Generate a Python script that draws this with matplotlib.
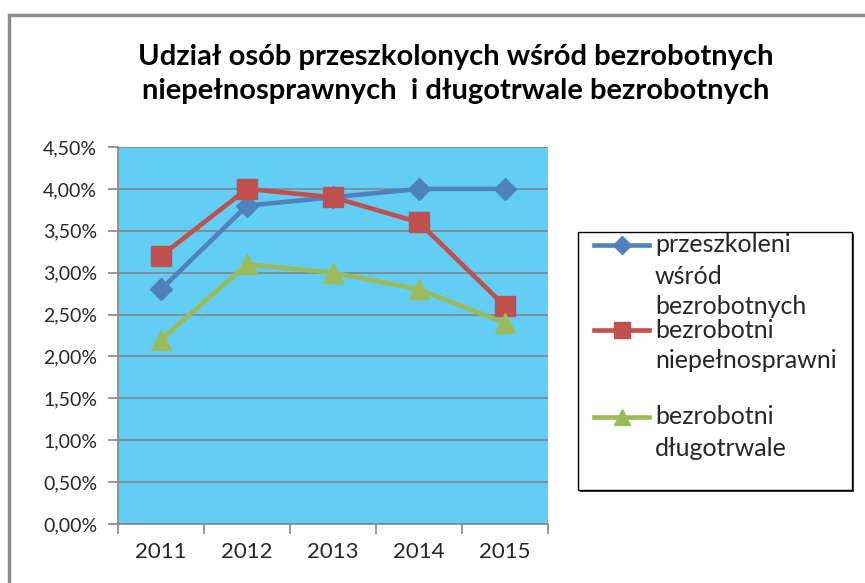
import matplotlib
matplotlib.use('Agg')
import matplotlib.pyplot as plt
from matplotlib.lines import Line2D
from matplotlib.patches import Rectangle
from matplotlib.ticker import FuncFormatter

plt.rcParams['font.family'] = ['Lato', 'DejaVu Sans']

# data (percent)
years = ['2011', '2012', '2013', '2014', '2015']
przeszkoleni = [2.8, 3.8, 3.9, 4.0, 4.0]
niepelnosprawni = [3.2, 4.0, 3.9, 3.6, 2.6]
dlugotrwale = [2.2, 3.1, 3.0, 2.8, 2.4]
names = ['przeszkoleni\nwśród\nbezrobotnych', 'bezrobotni\nniepełnosprawni', 'bezrobotni\ndługotrwale']
title = 'Udział osób przeszkolonych wśród bezrobotnych\nniepełnosprawnych  i długotrwale bezrobotnych'

colors = ['#4F81BD', '#C0504D', '#9BBB59']
markers = ['D', 's', '^']
msizes = [11, 14, 14]

W, H = 865, 583
fig = plt.figure(figsize=(W / 100, H / 100), dpi=100)
ax = fig.add_axes([118 / W, 1 - 524 / H, 430 / W, 377 / H])
ax.set_facecolor('#62CDF5')

x = list(range(len(years)))
series = [przeszkoleni, niepelnosprawni, dlugotrwale]
for vals, c, m, ms in zip(series, colors, markers, msizes):
    ax.plot(x, vals, color=c, lw=3.3, marker=m, markersize=ms,
            markeredgecolor=c, zorder=3)

ax.set_xlim(-0.5, len(years) - 0.5)
ax.set_ylim(0, 4.5)
ax.set_yticks([i * 0.5 for i in range(10)])
ax.yaxis.set_major_formatter(FuncFormatter(lambda v, p: f'{v:.2f}%'.replace('.', ',')))
ax.grid(axis='y', color='#868686', lw=1.2, zorder=1)
ax.set_axisbelow(True)

ax.set_xticks([i - 0.5 for i in range(len(years) + 1)])
ax.set_xticklabels([])
ax.set_xticks(x, minor=True)
ax.set_xticklabels(years, minor=True)
ax.tick_params(axis='x', which='minor', length=0, pad=13, labelsize=16, labelcolor='#262626')
ax.tick_params(axis='x', which='major', length=7, width=1.2, color='#868686', direction='out')
ax.tick_params(axis='y', length=7, width=1.2, color='#868686', pad=8, labelsize=14, labelcolor='#262626')

for s in ['top', 'right']:
    ax.spines[s].set_visible(False)
for s in ['left', 'bottom']:
    ax.spines[s].set_color('#868686')
    ax.spines[s].set_linewidth(1.2)

fig.text(456 / W, 1 - 74 / H, title, ha='center', va='center', fontsize=21,
         fontweight='bold', linespacing=1.4, color='#000000')

# outer chart border
fig.patches.append(Rectangle((9 / W, -0.1), 1.1, 1 - 15 / H + 0.1, transform=fig.transFigure,
                             fill=False, edgecolor='#8C8C8C', lw=2.5))

# legend box
fig.patches.append(Rectangle((580 / W, 1 - 492 / H), 274 / W, 258 / H, transform=fig.transFigure,
                             facecolor='#404040', edgecolor='none', zorder=4))
fig.patches.append(Rectangle((578 / W, 1 - 490 / H), 274 / W, 258 / H, transform=fig.transFigure,
                             facecolor='white', edgecolor='#000000', lw=1, zorder=5))
entry_y = [245, 330, 417]
for name, c, m, ms, ey in zip(names, colors, markers, msizes, entry_y):
    fig.lines.append(Line2D([594 / W, 649 / W], [1 - ey / H] * 2, transform=fig.transFigure,
                            color=c, lw=3.3, zorder=6))
    fig.lines.append(Line2D([621.5 / W], [1 - ey / H], transform=fig.transFigure,
                            color=c, marker=m, markersize=ms * 0.85, zorder=6))
    for k, line in enumerate(name.split('\n')):
        fig.text(655 / W, 1 - (ey + 31 * k) / H, line, ha='left', va='center',
                 fontsize=18, color='#262626', zorder=6)

fig.savefig('out.png', dpi=100)
